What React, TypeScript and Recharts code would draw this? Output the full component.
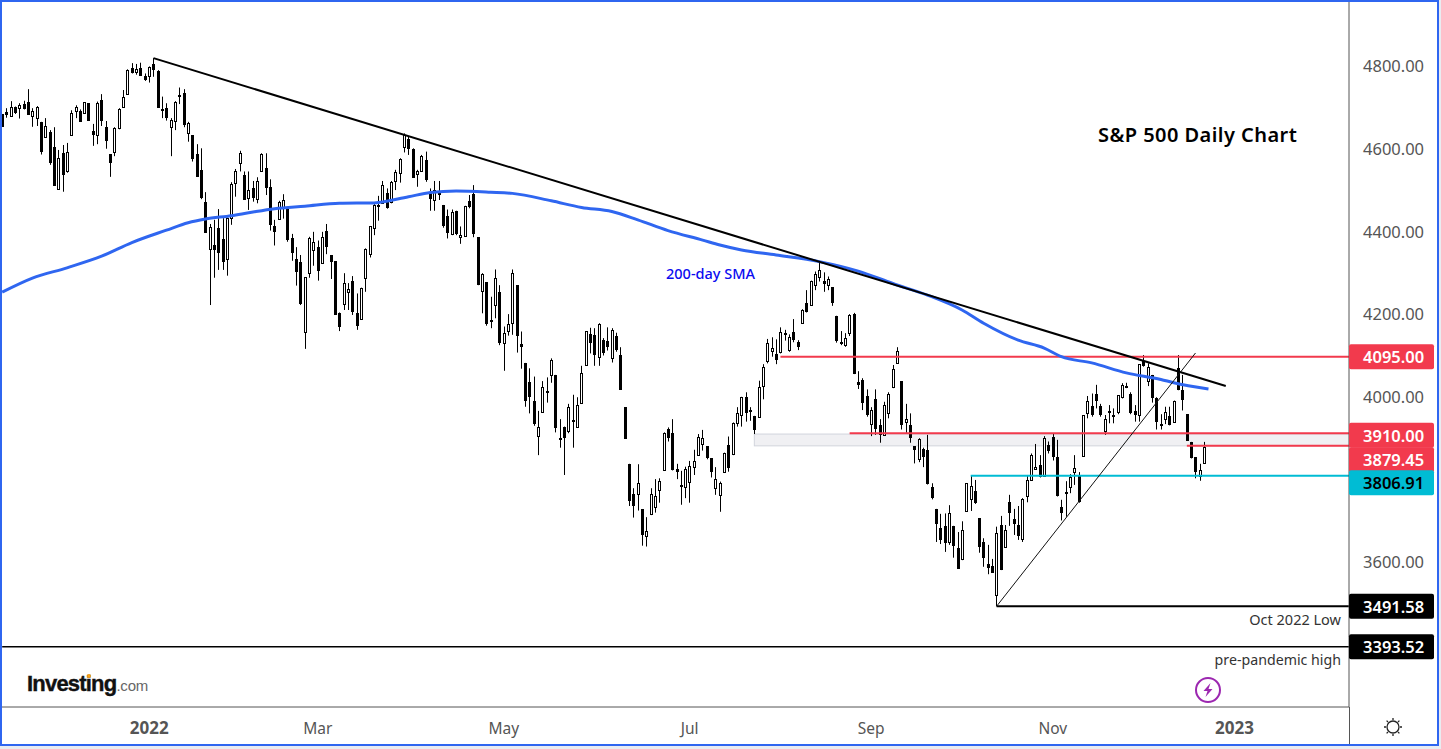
import React from 'react';
import { ComposedChart, Bar, Line, XAxis, YAxis, ReferenceLine, ReferenceArea } from 'recharts';

// daily candles, oldest first
const opens = [
  4682,4687,4676,4698,4697,4705,4711,4676,4673,4663,
  4626,4638,4601,4501,4587,4545,4630,4688,4688,4685,
  4708,4640,4632,4717,4650,4585,4591,4647,4700,4731,
  4792,4784,4792,4774,4774,4802,4785,4694,4696,4651,
  4666,4728,4732,4635,4630,4585,4546,4468,4355,4365,
  4406,4379,4332,4430,4516,4564,4534,4479,4502,4477,
  4543,4551,4505,4410,4427,4454,4454,4381,4331,4323,
  4154,4297,4352,4360,4321,4398,4340,4326,4200,4222,
  4251,4277,4200,4186,4285,4343,4406,4462,4466,4490,
  4468,4521,4539,4601,4622,4597,4538,4545,4571,4493,
  4473,4493,4462,4435,4391,4447,4384,4388,4472,4489,
  4384,4253,4275,4184,4219,4252,4127,4156,4177,4268,
  4126,4080,4034,3988,3903,3961,4012,4050,4051,3899,
  3925,3916,3942,3926,3982,4074,4149,4147,4094,4135,
  4132,4093,4145,4099,3973,3836,3763,3762,3726,3662,
  3714,3731,3772,3820,3919,3910,3823,3785,3779,3791,
  3829,3857,3885,3878,3850,3777,3761,3815,3881,3859,
  3934,3953,3997,3965,3952,3949,4023,4084,4110,4102,
  4106,4152,4111,4154,4131,4177,4224,4220,4268,4287,
  4277,4269,4263,4194,4131,4123,4152,4198,4034,4038,
  4000,3933,3992,3929,3906,3958,4021,4081,4036,3938,
  3930,3879,3847,3873,3869,3779,3727,3680,3686,3648,
  3686,3632,3607,3723,3750,3770,3705,3647,3594,3589,
  3518,3688,3636,3743,3703,3688,3655,3759,3796,3823,
  3833,3806,3881,3900,3852,3731,3768,3779,3815,3809,
  3856,3960,3976,4005,3976,3916,3964,3954,3962,3997,
  4023,4005,3964,3955,4085,4037,4051,3994,3932,3945,
  3952,3936,4067,4014,3956,3889,3852,3807,3837,
];
const closes = [
  4651,4680,4698,4685,4703,4695,4680,4689,4699,4591,
  4652,4564,4509,4576,4535,4589,4684,4698,4663,4710,
  4666,4631,4709,4666,4617,4564,4647,4693,4722,4788,
  4782,4791,4774,4763,4795,4788,4697,4690,4673,4668,
  4711,4724,4656,4659,4574,4530,4479,4395,4409,4353,
  4347,4323,4430,4513,4543,4587,4474,4497,4480,4519,
  4585,4502,4414,4397,4468,4473,4377,4347,4301,4223,
  4287,4382,4372,4303,4384,4361,4325,4197,4168,4274,
  4258,4202,4170,4260,4355,4410,4461,4458,4510,4454,
  4517,4541,4572,4630,4598,4528,4544,4580,4522,4477,
  4497,4485,4410,4395,4444,4391,4389,4459,4456,4391,
  4268,4294,4173,4180,4285,4129,4153,4173,4297,4144,
  4119,3989,3998,3932,3926,4021,4007,4086,3922,3897,
  3899,3973,3938,3978,4055,4156,4129,4098,4173,4105,
  4119,4159,4111,4015,3897,3747,3733,3789,3665,3673,
  3762,3757,3794,3910,3898,3820,3816,3783,3823,3830,
  3842,3901,3898,3851,3816,3799,3789,3861,3827,3934,
  3958,3997,3958,3962,3918,4021,4069,4127,4115,4087,
  4154,4148,4142,4135,4119,4207,4204,4277,4295,4305,
  4272,4282,4226,4133,4126,4140,4197,4053,4027,3984,
  3953,3965,3919,3905,3978,4004,4065,4108,3930,3944,
  3899,3870,3897,3853,3788,3754,3691,3652,3645,3716,
  3637,3582,3675,3789,3782,3742,3636,3609,3585,3573,
  3668,3579,3675,3718,3690,3661,3750,3797,3857,3828,
  3804,3898,3868,3853,3757,3718,3765,3803,3825,3744,
  3953,3989,3955,3989,3954,3944,3962,3948,4002,4026,
  4020,3960,3955,4077,4073,4069,3996,3938,3931,3961,
  3931,3987,4014,3990,3892,3849,3815,3820,3877,
];
const highs = [
  4682,4696,4713,4700,4708,4714,4742,4696,4701,4663,
  4672,4643,4650,4595,4607,4612,4691,4703,4693,4710,
  4708,4658,4712,4730,4665,4585,4650,4696,4740,4790,
  4805,4803,4806,4780,4797,4817,4788,4724,4708,4672,
  4713,4746,4742,4663,4631,4609,4599,4493,4416,4426,
  4452,4430,4431,4517,4549,4593,4543,4543,4520,4529,
  4587,4587,4524,4426,4472,4488,4455,4392,4360,4341,
  4287,4385,4397,4376,4397,4416,4341,4326,4202,4297,
  4273,4290,4248,4262,4357,4411,4464,4484,4520,4502,
  4520,4547,4575,4635,4627,4599,4547,4583,4591,4502,
  4520,4520,4462,4451,4451,4448,4410,4460,4486,4510,
  4384,4297,4275,4240,4306,4268,4168,4198,4306,4268,
  4156,4080,4067,4047,3964,4036,4045,4091,4051,3944,
  3926,3981,4003,3997,4073,4157,4165,4164,4176,4140,
  4166,4164,4153,4118,3973,3836,3777,3835,3726,3707,
  3777,3799,3801,3912,3924,3944,3836,3819,3829,3843,
  3870,3908,3918,3879,3850,3828,3793,3863,3902,3936,
  3973,3998,4009,3973,3952,4037,4077,4138,4142,4137,
  4166,4160,4149,4186,4135,4210,4256,4279,4301,4322,
  4299,4289,4263,4194,4157,4152,4198,4201,4060,4043,
  4016,3973,4016,3944,3986,4009,4075,4118,4036,3981,
  3958,3879,3898,3875,3906,3789,3727,3715,3716,3736,
  3686,3671,3697,3789,3807,3797,3705,3656,3640,3606,
  3684,3710,3688,3761,3727,3734,3753,3809,3861,3884,
  3857,3903,3890,3910,3894,3749,3794,3811,3857,3816,
  3954,4000,4006,4027,3981,3954,3978,3970,4002,4031,
  4032,4009,3978,4077,4099,4079,4051,3997,3956,3974,
  3974,3989,4099,4051,3956,3889,3852,3836,3889,
];
const lows = [
  4651,4673,4676,4682,4671,4693,4680,4651,4653,4584,
  4626,4559,4509,4501,4494,4540,4630,4672,4663,4685,
  4666,4605,4609,4653,4598,4530,4580,4645,4700,4731,
  4780,4777,4774,4762,4758,4772,4697,4672,4666,4580,
  4643,4706,4650,4615,4567,4530,4476,4395,4220,4286,
  4305,4305,4291,4414,4482,4543,4474,4450,4470,4466,
  4543,4486,4400,4364,4427,4429,4373,4327,4267,4220,
  4114,4286,4315,4279,4321,4343,4283,4197,4157,4208,
  4208,4196,4160,4184,4252,4335,4389,4424,4466,4453,
  4466,4498,4516,4589,4583,4528,4506,4543,4518,4448,
  4448,4474,4407,4381,4389,4389,4368,4388,4454,4384,
  4268,4200,4170,4164,4188,4123,4061,4146,4148,4105,
  4066,3974,3958,3928,3857,3961,3984,4032,3912,3875,
  3809,3910,3875,3924,3982,4073,4103,4073,4073,4098,
  4110,4081,4107,4015,3897,3734,3706,3723,3638,3636,
  3712,3718,3742,3820,3890,3820,3799,3737,3753,3742,
  3809,3855,3868,3847,3803,3761,3720,3815,3817,3857,
  3926,3926,3938,3940,3908,3949,3992,4079,4095,4077,
  4103,4134,4107,4130,4111,4177,4202,4218,4256,4277,
  4252,4256,4218,4129,4123,4119,4145,4053,4017,3966,
  3950,3903,3906,3887,3906,3946,4019,4081,3919,3911,
  3887,3837,3840,3828,3786,3750,3647,3642,3623,3640,
  3609,3582,3603,3723,3722,3739,3621,3587,3569,3573,
  3491.58,3579,3636,3686,3664,3652,3647,3743,3795,3823,
  3803,3805,3861,3844,3757,3699,3708,3765,3785,3742,
  3856,3946,3950,3970,3950,3906,3934,3934,3956,3994,
  4019,3956,3938,3938,4071,4024,3984,3919,3919,3932,
  3929,3936,4014,3965,3892,3849,3801,3795,3837,
];

const smaAt = [
  0,7,15,23,30,38,43,47,53,57,63,70,78,86,94,99,105,113,118,127,
  134,141,147,154,162,166,171,179,189,198,206,214,222,227,235,241,245,252,260,268,271,279,
];
const smaValues = [
  4251,4285,4310,4338,4371,4401,4419,4428,4436,4443,4453,4459,4466,4467,4482,4492,4496,4493,4490,4472,
  4456,4446,4426,4400,4377,4365,4353,4341,4325,4302,4272,4244,4208,4176,4135,4116,4095,4080,4056,4040,4032,4017,
];

// month labels sit on these candle numbers
const monthAt = [34, 73, 116, 159, 201, 243, 285];
const monthLabels = ['2022', 'Mar', 'May', 'Jul', 'Sep', 'Nov', '2023'];

const priceTicks = [3600, 4000, 4200, 4400, 4600, 4800];
const levels = [4095, 3910, 3879.45, 3806.91, 3491.58, 3393.52];
const levelFills = ['#f23a4d', '#f23a4d', '#f23a4d', '#00bcd4', '#000000', '#000000'];
const levelText = ['#ffffff', '#ffffff', '#ffffff', '#000000', '#ffffff', '#ffffff'];
const levelStart = [180, 196, 274, 224, 230, 0];
const levelLift = [0, 2, 14, 7, 0, 0];
const levelWidth = [2, 2, 2, 2, 2, 1.5];

const SLOTS = 312;
const rows = Array.from({ length: SLOTS }, (_, i) => {
  const smaSlot = smaAt.indexOf(i);
  return {
    idx: i,
    open: opens[i],
    close: closes[i],
    high: highs[i],
    low: lows[i],
    range: i < opens.length ? [lows[i], highs[i]] : null,
    sma: smaSlot >= 0 ? smaValues[smaSlot] : null,
  };
});

const Candle = (props: any) => {
  const { x, y, width, height, payload } = props;
  if (!payload || payload.open === undefined) return null;
  const perUnit = height / (payload.high - payload.low);
  const yOf = (v: number) => y + (payload.high - v) * perUnit;
  const col = Math.floor(x + width / 2);
  const top = Math.round(yOf(Math.max(payload.open, payload.close)));
  const bottom = Math.round(yOf(Math.min(payload.open, payload.close)));
  const up = payload.close > payload.open;
  return (
    <g>
      <rect x={col} y={y} width={1} height={height} fill="#000" />
      {up ? (
        <rect x={col - 0.5} y={top + 0.5} width={2} height={Math.max(bottom - top, 1)} fill="#fff" stroke="#000" strokeWidth={1} />
      ) : (
        <rect x={col - 1} y={top} width={3} height={Math.max(bottom - top, 2)} fill="#000" />
      )}
    </g>
  );
};

const PriceTick = (props: any) => {
  const { x, y, payload } = props;
  const slot = levels.indexOf(payload.value);
  const label = payload.value.toFixed(2);
  if (slot < 0) {
    return (
      <text x={x + 14} y={y} dy={7} fontSize={16.5} fontFamily="Noto Sans" fill="#555">
        {label}
      </text>
    );
  }
  const cy = y + levelLift[slot];
  return (
    <g>
      <rect x={x} y={cy - 12.5} width={85} height={25} rx={2} fill={levelFills[slot]} />
      <text x={x + 14} y={cy} dy={6.5} fontSize={16.5} fontWeight={600} fontFamily="Noto Sans" fill={levelText[slot]}>
        {label}
      </text>
    </g>
  );
};

const MonthTick = (props: any) => {
  const { x, y, payload } = props;
  const label = monthLabels[monthAt.indexOf(payload.value)];
  const isYear = label.length === 4;
  return (
    <text x={x} y={y + 24.5} textAnchor="middle" fontSize={isYear ? 17 : 15.5} fontWeight={isYear ? 700 : 400} fontFamily="Noto Sans" fill="#555">
      {label}
    </text>
  );
};

// level lines run up to the price scale, one slot past the last centre
const runToAxis = (p: any) => <line x1={p.x1} y1={p.y1} x2={p.x2 + 3} y2={p.y2} stroke={p.stroke} strokeWidth={p.strokeWidth} />;

const Note = ({ left, top, right, style, children }: any) => (
  <div style={{ position: 'absolute', left, top, right, whiteSpace: 'nowrap', fontFamily: 'Noto Sans', lineHeight: 1, ...style }}>{children}</div>
);

export default function App() {
  return (
    <div style={{ position: 'absolute', left: 0, top: 0, width: 1441, height: 749, background: '#e9ecf1', overflow: 'hidden' }}>
      <div style={{ position: 'absolute', left: 0, top: 0, width: 1439, height: 746, background: '#fff' }}>
        <ComposedChart width={1439} height={746} data={rows} margin={{ top: 2, right: 0, bottom: 0, left: 0 }} barSize={3}>
          <XAxis dataKey="idx" ticks={monthAt} interval={0} height={39} tickLine={false} tickSize={0} stroke="#555" tick={<MonthTick />} />
          <YAxis
            orientation="right"
            width={90}
            domain={[3247.9, 4952.8]}
            allowDataOverflow
            ticks={[...priceTicks, ...levels]}
            interval={0}
            tickLine={false}
            tickSize={0}
            tickMargin={0}
            stroke="#555"
            tick={<PriceTick />}
          />
          <ReferenceArea
            x1={174}
            x2={311}
            y1={3879.45}
            y2={3908}
            ifOverflow="visible"
            fill="#f0f0f3"
            stroke="#d1d4dc"
            shape={(p: any) => <rect x={p.x + 2} y={p.y} width={p.width + 1} height={p.height} fill="#f0f0f3" stroke="#d1d4dc" />}
          />
          {levels.map((v, k) => (
            <ReferenceLine
              key={v}
              segment={[{ x: levelStart[k], y: v }, { x: 311, y: v }]}
              ifOverflow="visible"
              stroke={levelFills[k]}
              strokeWidth={levelWidth[k]}
              shape={runToAxis}
            />
          ))}
          <Line dataKey="sma" connectNulls type="monotone" stroke="#2f66f0" strokeWidth={3} dot={false} activeDot={false} isAnimationActive={false} />
          <Bar dataKey="range" shape={<Candle />} isAnimationActive={false} />
          <ReferenceLine segment={[{ x: 35, y: 4817 }, { x: 283, y: 4024 }]} ifOverflow="visible" stroke="#000" strokeWidth={2} />
          <ReferenceLine segment={[{ x: 230, y: 3491.58 }, { x: 276, y: 4104 }]} ifOverflow="visible" stroke="#111" strokeWidth={1} />
        </ComposedChart>

        <Note left={1098} top={125} style={{ fontSize: 20, fontWeight: 600, letterSpacing: 0.45, color: '#000' }}>S&amp;P 500 Daily Chart</Note>
        <Note left={666} top={266} style={{ fontSize: 14.5, fontWeight: 500, color: '#0b0bf0' }}>200-day SMA</Note>
        <Note left={1230} top={612} style={{ width: 111, textAlign: 'right', fontSize: 14.5, color: '#333' }}>Oct 2022 Low</Note>
        <Note left={1200} top={653} style={{ width: 141, textAlign: 'right', fontSize: 14.2, color: '#333' }}>pre-pandemic high</Note>

        <Note left={27} top={673} style={{ fontFamily: 'Liberation Sans', fontSize: 22, fontWeight: 700, letterSpacing: -0.8, color: '#111', WebkitTextStroke: '0.4px #111' }}>
          Investing<span style={{ fontSize: 15, fontWeight: 400, letterSpacing: -0.2, color: '#666', WebkitTextStroke: '0' }}>.com</span>
        </Note>
        <div style={{ position: 'absolute', left: 87, top: 674, width: 4, height: 4, borderRadius: 2, background: '#f7a21b' }} />

        <svg style={{ position: 'absolute', left: 1194, top: 676 }} width={28} height={28} viewBox="0 0 28 28">
          <circle cx={14} cy={14} r={12} fill="#fff" stroke="#9c27b0" strokeWidth={2} />
          <path d="M16.5 7 L9.5 15 H13.5 L11.5 21 L18.5 13 H14.5 Z" fill="#9c27b0" />
        </svg>
        <svg style={{ position: 'absolute', left: 1383, top: 717 }} width={20} height={20} viewBox="0 0 20 20">
          <circle cx={10} cy={10} r={6} fill="none" stroke="#222" strokeWidth={1.3} />
          <path d="M10 1v2M10 17v2M1 10h2M17 10h2M3.6 3.6l1.4 1.4M15 15l1.4 1.4M3.6 16.4L5 15M15 5l1.4-1.4" stroke="#222" strokeWidth={1.3} />
        </svg>

        {/* price scale line carries on through the time scale */}
        <div style={{ position: 'absolute', left: 1349, top: 707, width: 1, height: 39, background: '#555' }} />
        <div style={{ position: 'absolute', inset: 0, border: '2px solid #2f66f0', pointerEvents: 'none' }} />
      </div>
    </div>
  );
}
